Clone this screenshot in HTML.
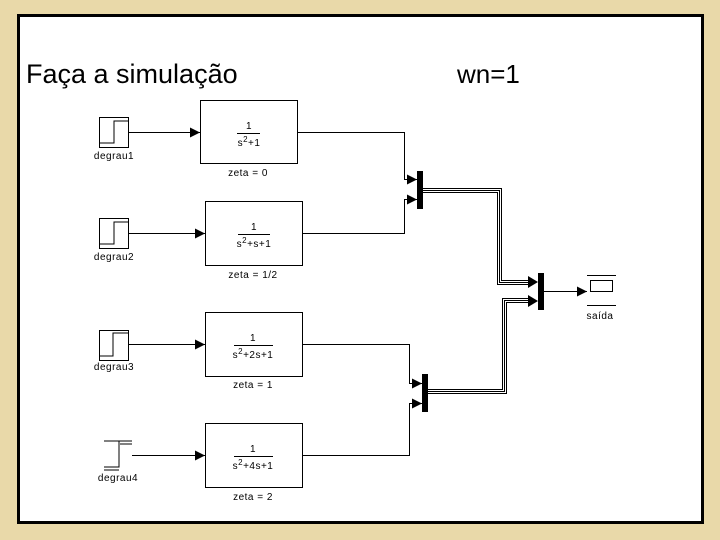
<!DOCTYPE html>
<html><head><style>
html,body{margin:0;padding:0;}
body{width:720px;height:540px;background:#e9d9a9;position:relative;overflow:hidden;font-family:"Liberation Sans",sans-serif;}
</style></head><body>
<svg width="720" height="540" style="position:absolute;left:0;top:0">
<defs>
<marker id="a" markerWidth="10" markerHeight="10" refX="10" refY="5" orient="auto" markerUnits="userSpaceOnUse"><path d="M0,0L10,5L0,10z" fill="#000"/></marker>
</defs>
<rect x="18.5" y="15.5" width="684" height="507" fill="#fff" stroke="#000" stroke-width="3"/>
<text x="26" y="83" font-size="27" font-family="Liberation Sans">Faça a simulação</text>
<text x="457" y="83" font-size="26" font-family="Liberation Sans">wn=1</text>
<g fill="none" stroke="#000" stroke-width="1">
<rect x="99.5" y="117.5" width="29" height="30"/>
<polyline points="100,143 114,143 114,121 129,121"/>
<rect x="99.5" y="218.5" width="29" height="30"/>
<polyline points="100,244 114,244 114,222 129,222"/>
<rect x="99.5" y="330.5" width="29" height="30"/>
<polyline points="100,356 113,356 113,333 129,333"/>
<polyline points="104,467 119,467 119,441 132,441"/>
<line x1="104" y1="441" x2="132" y2="441"/>
<line x1="120" y1="444" x2="132" y2="444"/>
<line x1="104" y1="470" x2="119" y2="470"/>
<rect x="200.5" y="100.5" width="97" height="63"/>
<rect x="205.5" y="201.5" width="97" height="64"/>
<rect x="205.5" y="312.5" width="97" height="64"/>
<rect x="205.5" y="423.5" width="97" height="64"/>
<line x1="237" y1="133.5" x2="260" y2="133.5"/>
<line x1="238" y1="234.5" x2="270" y2="234.5"/>
<line x1="234" y1="345.5" x2="273" y2="345.5"/>
<line x1="234" y1="456.5" x2="273" y2="456.5"/>
<line x1="129" y1="132.5" x2="200" y2="132.5" marker-end="url(#a)"/>
<line x1="129" y1="233.5" x2="205" y2="233.5" marker-end="url(#a)"/>
<line x1="129" y1="344.5" x2="205" y2="344.5" marker-end="url(#a)"/>
<line x1="132" y1="455.5" x2="205" y2="455.5" marker-end="url(#a)"/>
<polyline points="298,132.5 404.5,132.5 404.5,179.5 417,179.5" marker-end="url(#a)"/>
<polyline points="302,233.5 404.5,233.5 404.5,199.5 417,199.5" marker-end="url(#a)"/>
<polyline points="302,344.5 409.5,344.5 409.5,383.5 422,383.5" marker-end="url(#a)"/>
<polyline points="302,455.5 409.5,455.5 409.5,403.5 422,403.5" marker-end="url(#a)"/>
<polyline points="423,188.5 501.5,188.5 501.5,280.5 530,280.5"/>
<polyline points="423,190.5 499.5,190.5 499.5,282.5 530,282.5"/>
<polyline points="423,192.5 497.5,192.5 497.5,284.5 530,284.5"/>
<polyline points="428,389.5 502.5,389.5 502.5,298.5 530,298.5"/>
<polyline points="428,391.5 504.5,391.5 504.5,300.5 530,300.5"/>
<polyline points="428,393.5 506.5,393.5 506.5,302.5 530,302.5"/>
<line x1="544" y1="291.5" x2="587" y2="291.5" marker-end="url(#a)"/>
<line x1="587" y1="275.5" x2="616" y2="275.5"/>
<line x1="587" y1="305.5" x2="616" y2="305.5"/>
<rect x="590.5" y="280.5" width="22" height="11"/>
</g>
<g fill="#000">
<path d="M528,276L538,282L528,288z"/>
<path d="M528,295L538,301L528,307z"/>
<rect x="417" y="171" width="6" height="38"/>
<rect x="422" y="374" width="6" height="38"/>
<rect x="538" y="273" width="6" height="37"/>
</g>
<g font-family="Liberation Sans" font-size="10" text-anchor="middle" fill="#000" letter-spacing="0.5">
<text x="114" y="159">degrau1</text>
<text x="114" y="260">degrau2</text>
<text x="114" y="370">degrau3</text>
<text x="118" y="481">degrau4</text>
<text x="249" y="129">1</text>
<text x="249" y="146">s<tspan font-size="8" dy="-4">2</tspan><tspan dy="4">+1</tspan></text>
<text x="254" y="230">1</text>
<text x="254" y="247">s<tspan font-size="8" dy="-4">2</tspan><tspan dy="4">+s+1</tspan></text>
<text x="253" y="341">1</text>
<text x="253" y="358">s<tspan font-size="8" dy="-4">2</tspan><tspan dy="4">+2s+1</tspan></text>
<text x="253" y="452">1</text>
<text x="253" y="469">s<tspan font-size="8" dy="-4">2</tspan><tspan dy="4">+4s+1</tspan></text>
<text x="248" y="176">zeta = 0</text>
<text x="253" y="278">zeta = 1/2</text>
<text x="253" y="388">zeta = 1</text>
<text x="253" y="500">zeta = 2</text>
<text x="600" y="319">saída</text>
</g>
</svg>
</body></html>
